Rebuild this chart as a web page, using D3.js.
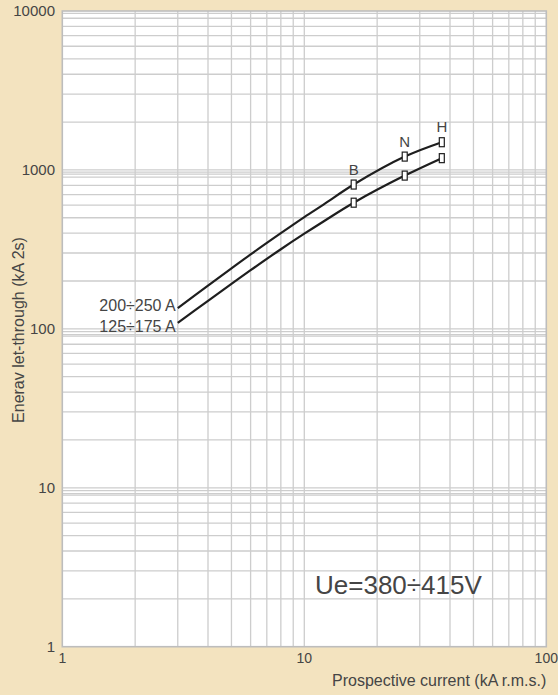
<!DOCTYPE html>
<html>
<head>
<meta charset="utf-8">
<script src="https://cdn.jsdelivr.net/npm/d3@7"></script>
<style>
  body { margin: 0; background: #f3e3bf; }
  text { font-family: "Liberation Sans", Arial, sans-serif; fill: #454545; }
</style>
</head>
<body>
<svg width="558" height="695"></svg>
<script>

// prospective current (kA) where the curves are read
var currents = [3, 4, 5, 6, 8, 10, 12, 16, 26, 37];
// let-through energy (kA2s)
var upper = [135, 187, 240, 294, 400, 505, 605, 809, 1213, 1494];
var lower = [109, 150, 192, 234, 317, 397, 474, 622, 921, 1186];
var curveNames = ["200÷250 A", "125÷175 A"];

// breaking capacity markers
var markerNames = ["B", "N", "H"];
var markerX = [16, 26, 37];
var markerUpper = [809, 1213, 1494];
var markerLower = [622, 921, 1186];

var xTicks = [1, 10, 100];
var yTicks = [1, 10, 100, 1000, 10000];
var yExtra = [9650, 970, 940, 96, 92, 9.6, 9.2];

var svg = d3.select("svg"),
    width = +svg.attr("width"),
    height = +svg.attr("height");

svg.append("rect")
    .attr("width", width)
    .attr("height", height)
    .attr("fill", "#f3e3bf");

var x = d3.scaleLog().domain([1, 100]).range([62.3, 546.3]);
var y = d3.scaleLog().domain([1, 10000]).range([646.7, 11]);

svg.append("rect")
    .attr("x", x(1))
    .attr("y", y(10000))
    .attr("width", x(100) - x(1))
    .attr("height", y(1) - y(10000))
    .attr("fill", "#fff");

// grid
var xGrid = x.ticks(10).filter(function(d) { return d > 1 && d < 100; });
var yGrid = y.ticks(40).filter(function(d) { return d > 1 && d < 10000; }).concat(yExtra);

svg.append("g").selectAll("line")
    .data(xGrid)
  .enter().append("line")
    .attr("x1", function(d) { return x(d); })
    .attr("x2", function(d) { return x(d); })
    .attr("y1", y(10000))
    .attr("y2", y(1))
    .attr("stroke", "#cdcdcd")
    .attr("stroke-width", 1.3);

svg.append("g").selectAll("line")
    .data(yGrid)
  .enter().append("line")
    .attr("x1", x(1))
    .attr("x2", x(100))
    .attr("y1", function(d) { return y(d); })
    .attr("y2", function(d) { return y(d); })
    .attr("stroke", "#cdcdcd")
    .attr("stroke-width", 1.3);

svg.append("rect")
    .attr("x", x(1))
    .attr("y", y(10000))
    .attr("width", x(100) - x(1))
    .attr("height", y(1) - y(10000))
    .attr("fill", "none")
    .attr("stroke", "#bdbdbd")
    .attr("stroke-width", 1.6);

// tick labels
svg.append("g").selectAll("text")
    .data(yTicks)
  .enter().append("text")
    .attr("x", 55)
    .attr("y", function(d) { return y(d); })
    .attr("dy", "0.36em")
    .attr("text-anchor", "end")
    .style("font-size", "15px")
    .text(function(d) { return d; });

svg.append("g").selectAll("text")
    .data(xTicks)
  .enter().append("text")
    .attr("x", function(d) { return x(d); })
    .attr("y", 663)
    .attr("text-anchor", "middle")
    .style("font-size", "14px")
    .text(function(d) { return d; });

svg.append("text")
    .attr("x", x(100))
    .attr("y", 686)
    .attr("text-anchor", "end")
    .style("font-size", "16px")
    .text("Prospective current (kA r.m.s.)");

svg.append("text")
    .attr("transform", "translate(24,330) rotate(-90)")
    .attr("text-anchor", "middle")
    .style("font-size", "16px")
    .text("Enerav let-through (kA 2s)");

svg.append("text")
    .attr("x", 315)
    .attr("y", 594)
    .style("font-size", "26px")
    .text("Ue=380÷415V");

// curves
var line = d3.line()
    .x(function(d) { return x(d[0]); })
    .y(function(d) { return y(d[1]); })
    .curve(d3.curveCatmullRom.alpha(0.5));

[upper, lower].forEach(function(s, k) {
  svg.append("path")
      .datum(d3.zip(currents, s))
      .attr("d", line)
      .attr("fill", "none")
      .attr("stroke", "#1e1e1e")
      .attr("stroke-width", 2.2);

  svg.append("text")
      .attr("x", x(currents[0]) - 2)
      .attr("y", y(s[0]) + (k == 0 ? 3 : 9))
      .attr("text-anchor", "end")
      .style("font-size", "16px")
      .text(curveNames[k]);
});

// markers
[markerUpper, markerLower].forEach(function(s) {
  svg.append("g").selectAll("rect")
      .data(d3.zip(markerX, s))
    .enter().append("rect")
      .attr("x", function(d) { return x(d[0]) - 2.5; })
      .attr("y", function(d) { return y(d[1]) - 4.5; })
      .attr("width", 5)
      .attr("height", 9)
      .attr("fill", "#fff")
      .attr("stroke", "#1e1e1e")
      .attr("stroke-width", 1.2);
});

svg.append("g").selectAll("text")
    .data(d3.zip(markerX, markerUpper, markerNames))
  .enter().append("text")
    .attr("x", function(d) { return x(d[0]); })
    .attr("y", function(d) { return y(d[1]) - 10; })
    .attr("text-anchor", "middle")
    .style("font-size", "15px")
    .text(function(d) { return d[2]; });

</script>
</body>
</html>
